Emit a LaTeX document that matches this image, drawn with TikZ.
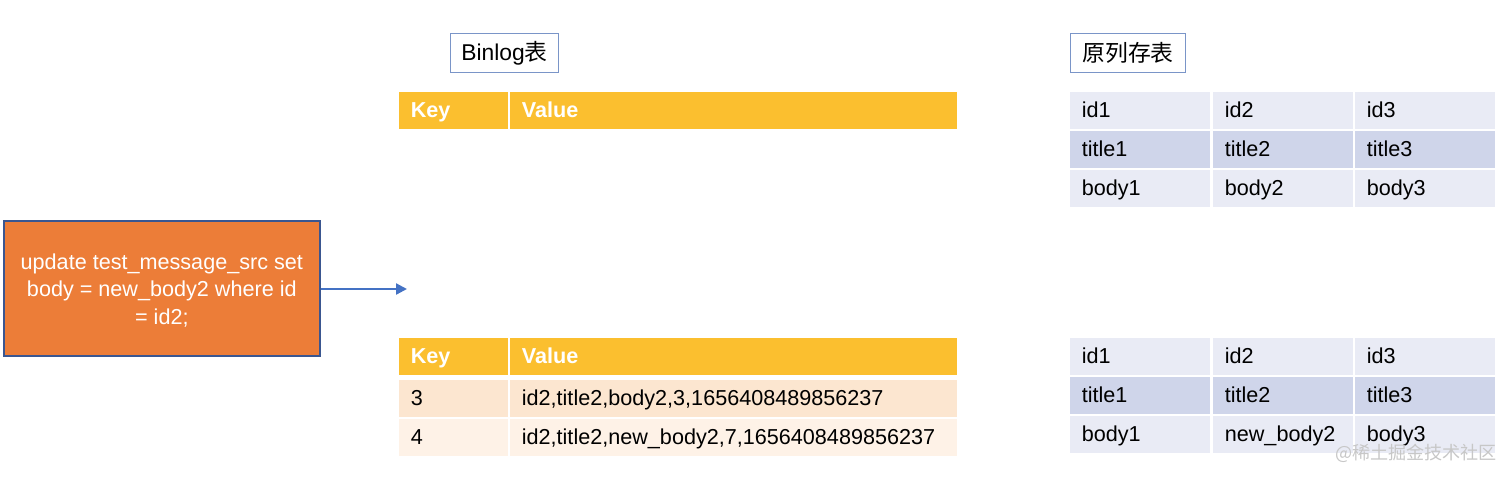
\documentclass[tikz,border=0pt]{standalone}
\usepackage{fontspec}
\setmainfont{Liberation Sans}
\newfontfamily\cjk{Noto Sans CJK SC}
\usepackage{tikz}
\usetikzlibrary{arrows.meta}
\definecolor{sqlOrange}{HTML}{EC7D38}
\definecolor{sqlBorder}{HTML}{3A5690}
\definecolor{flowBlue}{HTML}{4472C4}
\definecolor{tagBorder}{HTML}{7A95C8}
\definecolor{headGold}{HTML}{FBBF2F}
\definecolor{binRowA}{HTML}{FCE6D0}
\definecolor{binRowB}{HTML}{FEF2E7}
\definecolor{colRowA}{HTML}{E9EBF5}
\definecolor{colRowB}{HTML}{CFD5EA}
\newcommand{\cellfont}{\fontsize{12.3}{15.4}\selectfont}

\begin{document}
\begin{tikzpicture}[x=0.02cm, y=-0.02cm,
	every node/.style={inner sep=0pt},
	sqlbox/.style={anchor=north west, fill=sqlOrange, draw=sqlBorder, line width=1pt,
		minimum width=6.32cm, minimum height=2.7cm, align=center, text=white, font=\cellfont},
	tagbox/.style={anchor=north west, draw=tagBorder, line width=0.6pt, minimum height=0.78cm,
		font=\fontsize{13}{15}\selectfont},
	cell/.style={anchor=north west, text width=#1, align=left, inner xsep=0.23cm,
		minimum height=0.73cm, text height=1.78ex, text depth=0.22ex, font=\cellfont},
	headcell/.style={cell=#1, fill=headGold, text=white, font=\cellfont\bfseries},
	flow/.style={flowBlue, line width=1.3pt, -{Triangle[length=0.22cm, width=0.22cm]}}]
	\useasboundingbox (0,0) rectangle (1512,478);
	% sql statement and arrow
	\node[sqlbox] (sql) at (3,220) {\rule{0pt}{1.75ex}update test\_message\_src set\\body = new\_body2 where id\\= id2;};
	\coordinate (flowEnd) at (407,289);
	\draw[flow] (sql.east |- flowEnd) -- (flowEnd);

	% titles
	\node[tagbox, minimum width=2.16cm] (binTag) at (450,33) {Binlog{\cjk 表}};
	\node[tagbox, minimum width=2.3cm] (colTag) at (1070,33) {\cjk 原列存表};

	% binlog table, before
	\node[headcell=1.72cm] (keyA) at (399,92) {Key};
	\node[headcell=8.48cm] (valA) at (510,92) {Value};

	% binlog table, after
	\node[headcell=1.72cm] (keyB) at (399,338) {Key};
	\node[headcell=8.48cm] (valB) at (510,338) {Value};
	\node[cell=1.72cm, fill=binRowA] (key3) at (399,380) {3};
	\node[cell=8.48cm, fill=binRowA] (val3) at (510,380) {id2,title2,body2,3,1656408489856237};
	\node[cell=1.72cm, fill=binRowB] (key4) at (399,419) {4};
	\node[cell=8.48cm, fill=binRowB] (val4) at (510,419) {id2,title2,new\_body2,7,1656408489856237};

	% column store, before and after
	\foreach \r/\yy/\shade/\word in {1/92/colRowA/id, 2/131/colRowB/title, 3/170/colRowA/body}
		\foreach \c/\xx in {1/1070, 2/1213, 3/1355}
			\node[cell=2.34cm, fill=\shade] (old\r\c) at (\xx,\yy) {\word\c};
	\foreach \r/\yy/\shade/\word in {1/338/colRowA/id, 2/377/colRowB/title}
		\foreach \c/\xx in {1/1070, 2/1213, 3/1355}
			\node[cell=2.34cm, fill=\shade] (new\r\c) at (\xx,\yy) {\word\c};
	\node[cell=2.34cm, fill=colRowA] (new31) at (1070,416) {body1};
	\node[cell=2.34cm, fill=colRowA] (new32) at (1213,416) {new\_body2};
	\node[cell=2.34cm, fill=colRowA] (new33) at (1355,416) {body3};

	\node[text=black!22, font=\cjk\fontsize{10.3}{12}\selectfont] (mark) at (1416,453) {@稀土掘金技术社区};

\end{tikzpicture}
\end{document}
